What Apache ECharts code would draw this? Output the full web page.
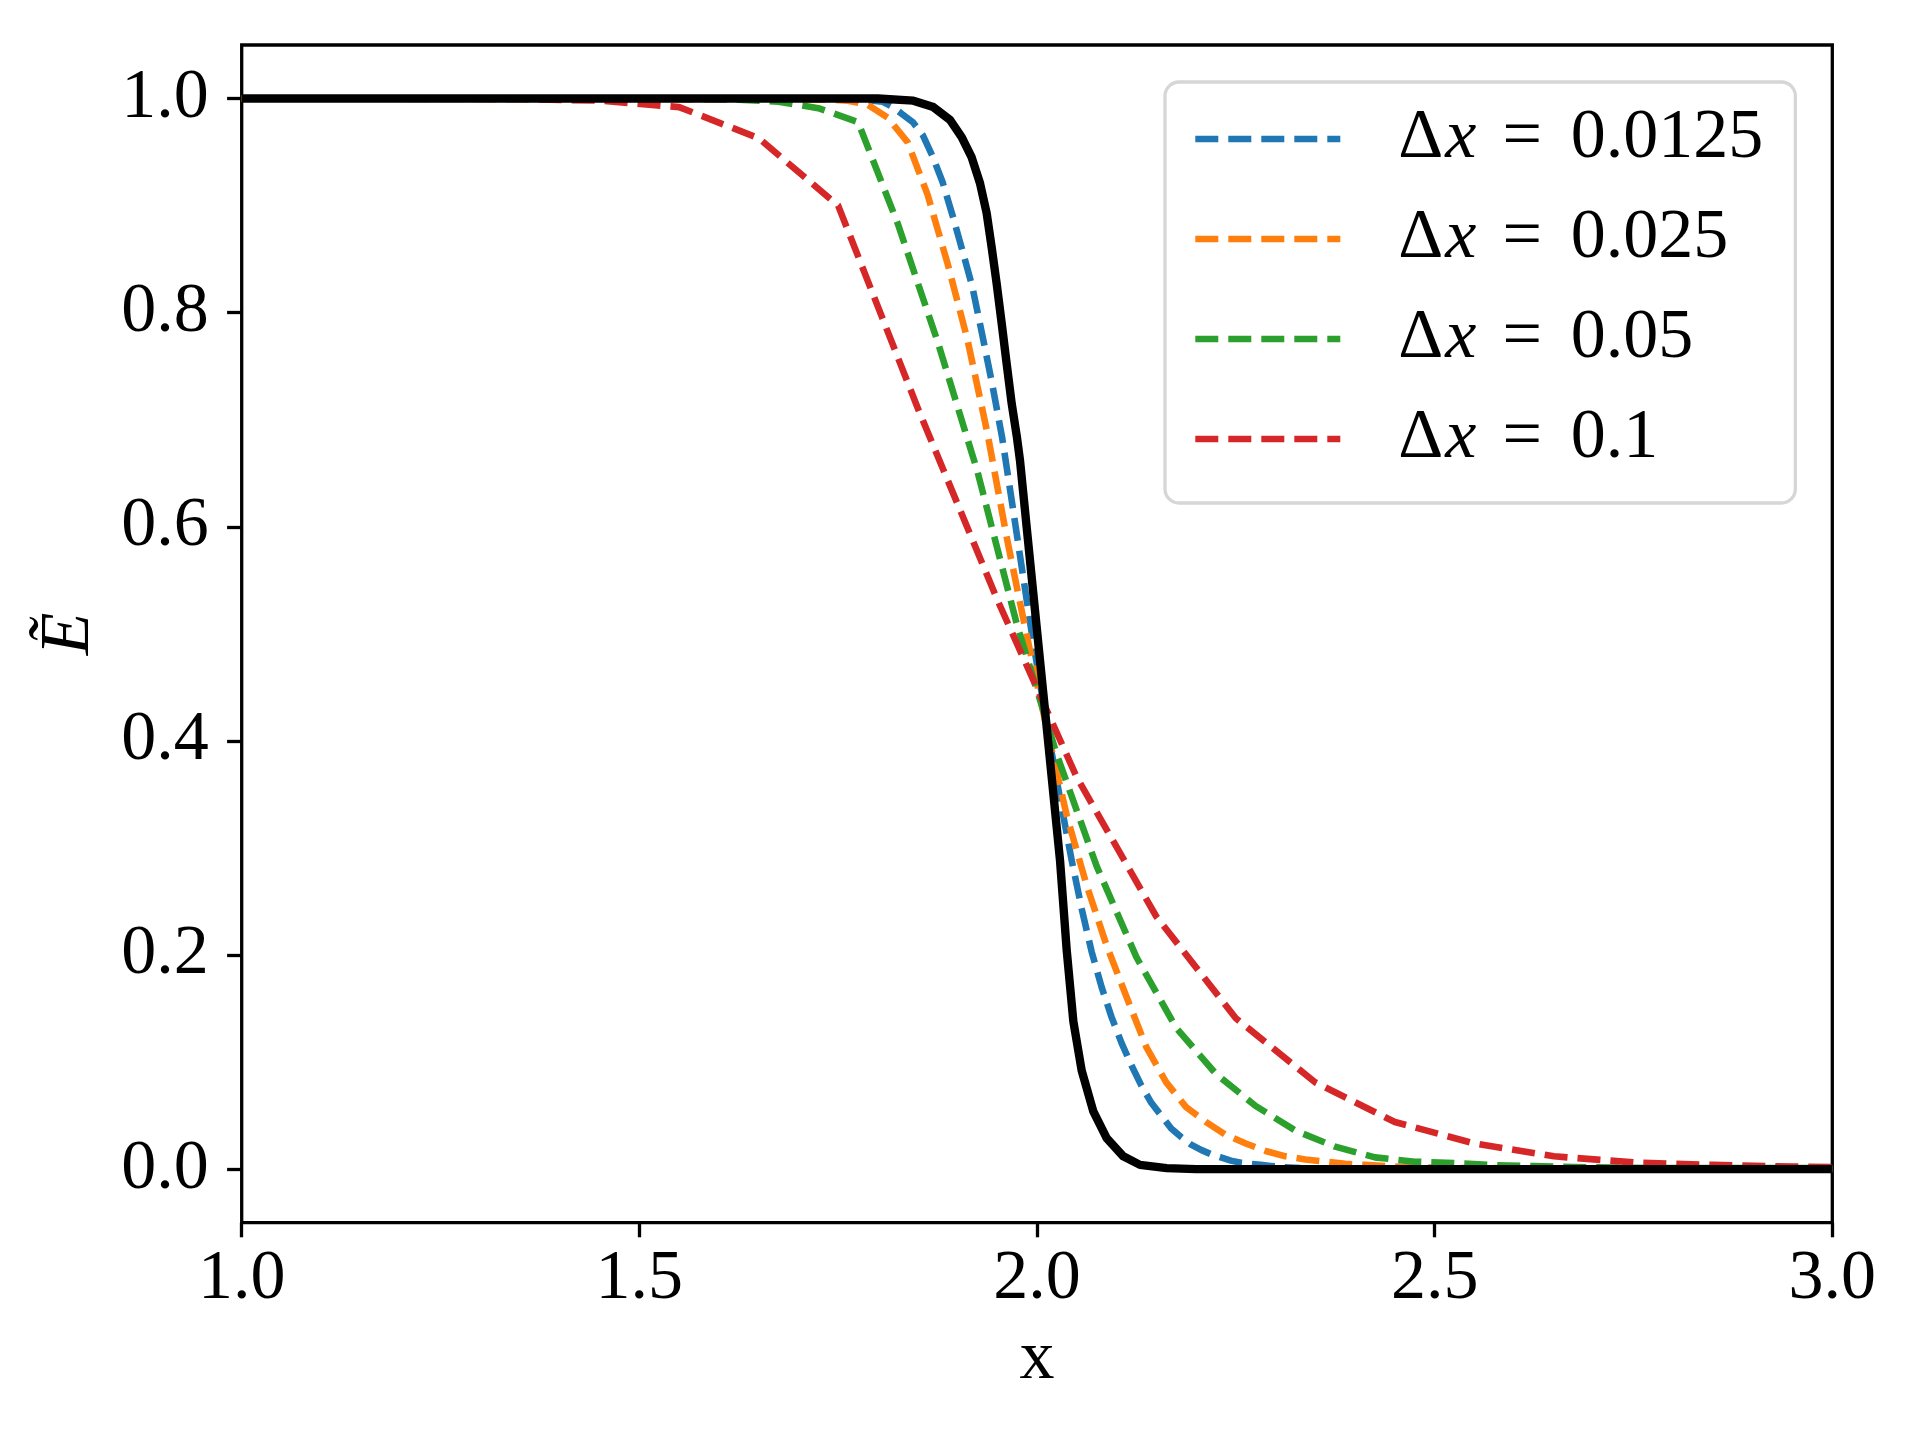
<!DOCTYPE html>
<html>
<head>
<meta charset="utf-8">
<script src="https://cdn.jsdelivr.net/npm/echarts@6/dist/echarts.min.js"></script>
<style>
html,body{margin:0;padding:0;background:#fff;}
#chart{width:1920px;height:1440px;}
</style>
</head>
<body>
<div id="chart"></div>
<script>
// ---- data ----
const xTicks = [1.0, 1.5, 2.0, 2.5, 3.0];
const yTicks = [0.0, 0.2, 0.4, 0.6, 0.8, 1.0];

const seriesNames = ['Δx = 0.0125', 'Δx = 0.025', 'Δx = 0.05', 'Δx = 0.1'];
const seriesColors = ['#1f77b4', '#ff7f0e', '#2ca02c', '#d62728'];

// Δx = 0.0125
const blueX = [1.0, 1.75625, 1.76875, 1.78125, 1.79375, 1.80625, 1.81875, 1.83125, 1.84375, 1.85625, 1.86875, 1.88125, 1.89375, 1.90625, 1.91875, 1.93125, 1.94375, 1.95625, 1.96875, 1.98125, 1.99375, 2.00625, 2.01875, 2.03125, 2.04375, 2.05625, 2.06875, 2.08125, 2.09375, 2.10625, 2.11875, 2.13125, 2.14375, 2.15625, 2.16875, 2.18125, 2.19375, 2.20625, 2.21875, 2.23125, 2.24375, 2.25625, 2.26875, 2.28125, 2.29375, 2.30625, 2.33125, 2.4, 3.0];
const blueY = [1.0, 1.0, 0.999, 0.998, 0.998, 0.997, 0.992, 0.985, 0.978, 0.966, 0.946, 0.922, 0.891, 0.858, 0.824, 0.779, 0.733, 0.683, 0.622, 0.560, 0.499, 0.443, 0.388, 0.337, 0.288, 0.243, 0.203, 0.170, 0.142, 0.118, 0.097, 0.078, 0.062, 0.050, 0.038, 0.030, 0.023, 0.018, 0.014, 0.011, 0.008, 0.006, 0.005, 0.004, 0.003, 0.002, 0.001, 0.0, 0.0];

// Δx = 0.025
const orangeX = [1.0, 1.7375, 1.7625, 1.7875, 1.8125, 1.8375, 1.8625, 1.8875, 1.9125, 1.9375, 1.9625, 1.9875, 2.0125, 2.0375, 2.0625, 2.0875, 2.1125, 2.1375, 2.1625, 2.1875, 2.2125, 2.2375, 2.2625, 2.2875, 2.3125, 2.3375, 2.3625, 2.3875, 2.4125, 2.4375, 2.4625, 2.4875, 2.55, 3.0];
const orangeY = [1.0, 0.999, 0.998, 0.994, 0.982, 0.959, 0.910, 0.846, 0.775, 0.688, 0.588, 0.497, 0.411, 0.330, 0.265, 0.209, 0.161, 0.114, 0.081, 0.058, 0.044, 0.032, 0.024, 0.017, 0.012, 0.009, 0.007, 0.005, 0.004, 0.003, 0.002, 0.0015, 0.001, 0.0];

// Δx = 0.05
const greenX = [1.0, 1.575, 1.625, 1.675, 1.725, 1.775, 1.825, 1.875, 1.925, 1.975, 2.025, 2.075, 2.125, 2.175, 2.225, 2.275, 2.325, 2.375, 2.425, 2.475, 2.525, 2.575, 2.625, 2.675, 2.725, 2.775, 2.9, 3.0];
const greenY = [1.0, 1.0, 0.999, 0.997, 0.991, 0.978, 0.883, 0.773, 0.652, 0.508, 0.387, 0.283, 0.198, 0.132, 0.089, 0.059, 0.036, 0.021, 0.011, 0.007, 0.0056, 0.0038, 0.0028, 0.002, 0.0015, 0.001, 0.001, 0.001];

// Δx = 0.1
const redX = [1.0, 1.25, 1.35, 1.45, 1.55, 1.65, 1.75, 1.85, 1.95, 2.05, 2.15, 2.25, 2.35, 2.45, 2.55, 2.65, 2.75, 2.85, 2.95, 3.0];
const redY = [1.0, 1.0, 0.9995, 0.998, 0.992, 0.963, 0.900, 0.711, 0.532, 0.366, 0.236, 0.141, 0.081, 0.044, 0.024, 0.012, 0.0063, 0.004, 0.0024, 0.002];

// reference (solid black)
const blackX = [1.0, 1.80, 1.8445, 1.8696, 1.8906, 1.9053, 1.9179, 1.9283, 1.9367, 1.943, 1.9493, 1.9556, 1.9619, 1.9682, 1.9745, 1.9786, 2.008, 2.029, 2.0373, 2.0457, 2.0562, 2.0708, 2.0876, 2.1085, 2.1295, 2.163, 2.2, 3.0];
const blackY = [1.0, 1.0, 0.998, 0.992, 0.980, 0.964, 0.945, 0.921, 0.893, 0.861, 0.827, 0.790, 0.752, 0.715, 0.685, 0.662, 0.444, 0.288, 0.205, 0.138, 0.092, 0.054, 0.029, 0.012, 0.004, 0.001, 0.0, 0.0];

// ---- build chart ----
const zip = (xs, ys) => xs.map((x, i) => [x, ys[i]]);
const dashedData = [zip(blueX, blueY), zip(orangeX, orangeY), zip(greenX, greenY), zip(redX, redY)];

const FONT = 'Liberation Serif';
const FS = 70;
const AXW = 3.3;
const DASH = [23, 10];
const DW = 6.6;

const series = dashedData.map((d, i) => ({
  name: seriesNames[i],
  type: 'line',
  data: d,
  symbol: 'none',
  showSymbol: false,
  clip: true,
  lineStyle: { color: seriesColors[i], width: DW, type: DASH, cap: 'butt', join: 'round' },
  itemStyle: { color: seriesColors[i] },
  z: 2
}));
series.push({
  name: 'reference',
  type: 'line',
  data: zip(blackX, blackY),
  symbol: 'none',
  showSymbol: false,
  clip: true,
  lineStyle: { color: '#000', width: 8.4, type: 'solid', join: 'round' },
  z: 3
});

const chart = echarts.init(document.getElementById('chart'), null, { renderer: 'canvas', width: 1920, height: 1440, devicePixelRatio: 1 });

chart.setOption({
  animation: false,
  backgroundColor: '#fff',
  grid: {
    left: 241.7, right: 87.7, top: 45, bottom: 217.3,
    show: true, borderColor: '#000', borderWidth: AXW, backgroundColor: 'transparent'
  },
  xAxis: {
    type: 'value', min: 1, max: 3,
    name: 'x', nameLocation: 'middle', nameGap: 137,
    nameTextStyle: { fontFamily: FONT, fontSize: FS, color: '#000', verticalAlign: 'middle', lineHeight: FS },
    axisLine: { show: false, onZero: false },
    axisTick: { show: true, inside: false, customValues: xTicks, length: 14.6, lineStyle: { color: '#000', width: AXW } },
    axisLabel: { customValues: xTicks, formatter: v => v.toFixed(1), margin: 22, fontFamily: FONT, fontSize: FS, color: '#000', lineHeight: FS },
    splitLine: { show: false }
  },
  yAxis: {
    type: 'value', min: -0.05, max: 1.05,
    name: 'Ẽ', nameLocation: 'middle', nameGap: 172, nameRotate: 90,
    nameTextStyle: { fontFamily: FONT, fontStyle: 'italic', fontSize: FS, color: '#000', verticalAlign: 'middle', lineHeight: FS },
    axisLine: { show: false, onZero: false },
    axisTick: { show: true, inside: false, customValues: yTicks, length: 14.6, lineStyle: { color: '#000', width: AXW } },
    axisLabel: { customValues: yTicks, formatter: v => v.toFixed(1), margin: 33, fontFamily: FONT, fontSize: FS, color: '#000' },
    splitLine: { show: false }
  },
  legend: {
    data: seriesNames,
    orient: 'vertical',
    left: 1165, top: 82,
    padding: [22, 32, 29, 27],
    itemWidth: 145, itemHeight: 20, itemGap: 30,
    selectedMode: false,
    backgroundColor: '#fff',
    borderColor: '#d6d6d6', borderWidth: 3.3, borderRadius: 14,
    itemStyle: { color: 'transparent', borderColor: 'transparent', borderWidth: 0, opacity: 0 },
    lineStyle: { width: DW, type: DASH, cap: 'butt' },
    formatter: name => '{d|Δ}{i|x}{e|=}{n|' + name.split('= ')[1] + '}',
    textStyle: {
      fontFamily: FONT, fontSize: FS, color: '#000', lineHeight: FS,
      rich: {
        d: { fontFamily: FONT, fontSize: FS, color: '#000', padding: [0, 2, 0, 53] },
        i: { fontFamily: FONT, fontSize: FS, color: '#000', fontStyle: 'italic', padding: [0, 6, 0, 0] },
        e: { fontFamily: FONT, fontSize: FS, color: '#000', padding: [0, 29, 0, 20] },
        n: { fontFamily: FONT, fontSize: FS, color: '#000' }
      }
    }
  },
  series: series
});
</script>
</body>
</html>
